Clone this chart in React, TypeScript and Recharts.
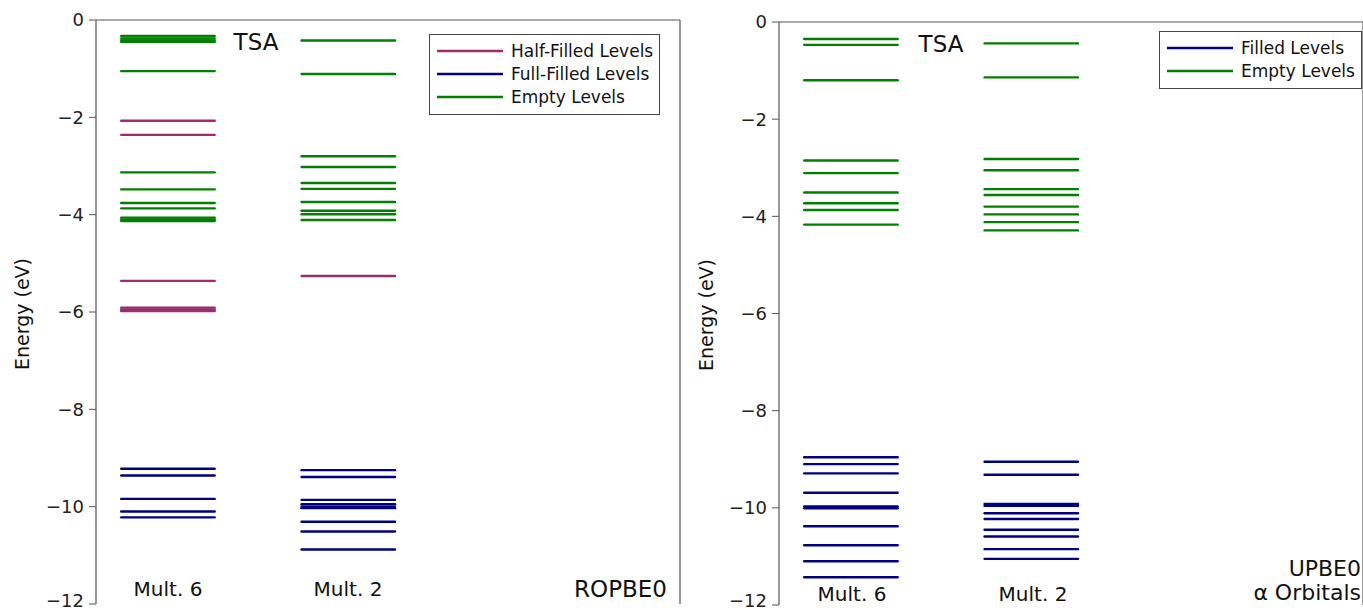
import React from 'react';
import { ComposedChart, Line, XAxis, YAxis, ReferenceLine } from 'recharts';

// ---- data (energies in eV) ----
const yTicks = [0, -2, -4, -6, -8, -10, -12];
const xDomain = [0, 6.25];
const mult6Span = [0.27, 1.27];
const mult2Span = [2.2, 3.2];
const categories = ['Mult. 6', 'Mult. 2'];

// ROPBE0 panel
const roHalf6 = [-2.07, -2.36, -5.36, -5.91, -5.95, -5.98];
const roEmpty6 = [-0.33, -0.38, -0.42, -0.45, -1.05, -3.13, -3.48, -3.76, -3.87, -4.06, -4.10, -4.13];
const roFull6 = [-9.22, -9.36, -9.84, -10.10, -10.22];
const roHalf2 = [-5.26];
const roEmpty2 = [-0.42, -1.11, -2.80, -3.02, -3.35, -3.47, -3.74, -3.92, -3.99, -4.11];
const roFull2 = [-9.25, -9.39, -9.86, -9.95, -10.00, -10.03, -10.31, -10.51, -10.88];

// UPBE0 alpha panel
const uEmpty6 = [-0.35, -0.47, -1.20, -2.85, -3.11, -3.51, -3.73, -3.87, -4.17];
const uFilled6 = [-8.96, -9.10, -9.29, -9.69, -9.97, -10.01, -10.38, -10.77, -11.10, -11.43];
const uEmpty2 = [-0.44, -1.14, -2.82, -3.05, -3.44, -3.56, -3.80, -3.96, -4.12, -4.29];
const uFilled2 = [-9.05, -9.32, -9.92, -9.96, -10.11, -10.23, -10.45, -10.59, -10.85, -11.05];

const PURPLE = '#9b2d6b';
const NAVY = '#000080';
const GREEN = '#008000';
const FRAME = '#555';
const FONT = '"DejaVu Sans", sans-serif';

type Group = { color: string; levels: number[]; span: number[] };

const fmt = (v: number) => (v === 0 ? '0' : '\u2212' + Math.abs(v));

function Panel({ width, height, margin, groups }: { width: number; height: number; margin: any; groups: Group[] }) {
  const lines: React.ReactNode[] = [];
  groups.forEach((g, gi) => {
    g.levels.forEach((e, li) => {
      lines.push(
        <Line
          key={`${gi}-${li}`}
          data={[{ x: g.span[0], y: e }, { x: g.span[1], y: e }]}
          dataKey="y"
          stroke={g.color}
          strokeWidth={2.4}
          strokeLinecap="round"
          dot={false}
          activeDot={false}
          isAnimationActive={false}
        />
      );
    });
  });
  return (
    <ComposedChart width={width} height={height} margin={margin}>
      <XAxis type="number" dataKey="x" domain={xDomain} hide={false} tick={false} tickLine={false} height={0}
        axisLine={{ stroke: FRAME, strokeWidth: 1.2 }} allowDataOverflow />
      <YAxis type="number" domain={[-12, 0]} ticks={yTicks} tickFormatter={fmt} width={60}
        tick={{ fontSize: 18, fill: '#222', fontFamily: FONT }} tickSize={7} tickMargin={5}
        axisLine={{ stroke: FRAME, strokeWidth: 1.2 }} tickLine={{ stroke: FRAME }} allowDataOverflow />
      <ReferenceLine y={0} stroke={FRAME} strokeWidth={1.2} />
      <ReferenceLine x={xDomain[1]} stroke={FRAME} strokeWidth={1.2} />
      {lines}
    </ComposedChart>
  );
}

const txt = (style: React.CSSProperties): React.CSSProperties => ({
  position: 'absolute', fontFamily: FONT, color: '#111', whiteSpace: 'nowrap', lineHeight: 1, ...style,
});

function LegendBox({ left, top, items }: { left: number; top: number; items: { label: string; color: string }[] }) {
  return (
    <div style={{ position: 'absolute', left, top, border: '1px solid #444', background: '#fff', padding: '4px 6px 6px 7px', fontFamily: FONT }}>
      {items.map((it) => (
        <div key={it.label} style={{ display: 'flex', alignItems: 'center', height: 23 }}>
          <svg width={66} height={6} style={{ marginRight: 8 }}>
            <line x1={0} y1={3} x2={66} y2={3} stroke={it.color} strokeWidth={2.6} />
          </svg>
          <span style={{ fontSize: 17, color: '#111' }}>{it.label}</span>
        </div>
      ))}
    </div>
  );
}

export default function App() {
  return (
    <div style={{ position: 'absolute', left: 0, top: 0, width: 1363, height: 611, background: '#fff', overflow: 'hidden' }}>
      <div style={{ position: 'absolute', left: 0, top: 0 }}>
        <Panel width={690} height={611} margin={{ top: 20, right: 10, bottom: 7, left: 36 }}
          groups={[
            { color: PURPLE, levels: roHalf6, span: mult6Span },
            { color: GREEN, levels: roEmpty6, span: mult6Span },
            { color: NAVY, levels: roFull6, span: mult6Span },
            { color: PURPLE, levels: roHalf2, span: mult2Span },
            { color: GREEN, levels: roEmpty2, span: mult2Span },
            { color: NAVY, levels: roFull2, span: mult2Span },
          ]} />
      </div>
      <div style={{ position: 'absolute', left: 683, top: 0 }}>
        <Panel width={680} height={611} margin={{ top: 22, right: 0, bottom: 6, left: 36 }}
          groups={[
            { color: GREEN, levels: uEmpty6, span: mult6Span },
            { color: NAVY, levels: uFilled6, span: mult6Span },
            { color: GREEN, levels: uEmpty2, span: mult2Span },
            { color: NAVY, levels: uFilled2, span: mult2Span },
          ]} />
      </div>

      {/* axis titles */}
      <div style={txt({ left: 22, top: 314, fontSize: 19, transform: 'translate(-50%,-50%) rotate(-90deg)' })}>Energy (eV)</div>
      <div style={txt({ left: 706, top: 315, fontSize: 19, transform: 'translate(-50%,-50%) rotate(-90deg)' })}>Energy (eV)</div>

      {/* annotations */}
      <div style={txt({ left: 256, top: 42, fontSize: 23, transform: 'translate(-50%,-50%)' })}>TSA</div>
      <div style={txt({ left: 941, top: 44, fontSize: 23, transform: 'translate(-50%,-50%)' })}>TSA</div>
      <div style={txt({ left: 168, top: 589, fontSize: 20, transform: 'translate(-50%,-50%)' })}>{categories[0]}</div>
      <div style={txt({ left: 348, top: 589, fontSize: 20, transform: 'translate(-50%,-50%)' })}>{categories[1]}</div>
      <div style={txt({ left: 852, top: 594, fontSize: 20, transform: 'translate(-50%,-50%)' })}>{categories[0]}</div>
      <div style={txt({ left: 1033, top: 594, fontSize: 20, transform: 'translate(-50%,-50%)' })}>{categories[1]}</div>
      <div style={txt({ right: 1363 - 667, top: 589, fontSize: 23, transform: 'translateY(-50%)' })}>ROPBE0</div>
      <div style={txt({ right: 2, top: 569, fontSize: 22, transform: 'translateY(-50%)', textAlign: 'right' })}>UPBE0</div>
      <div style={txt({ right: 2, top: 593, fontSize: 22, transform: 'translateY(-50%)', textAlign: 'right' })}>α Orbitals</div>

      <LegendBox left={429} top={34} items={[
        { label: 'Half-Filled Levels', color: PURPLE },
        { label: 'Full-Filled Levels', color: NAVY },
        { label: 'Empty Levels', color: GREEN },
      ]} />
      <LegendBox left={1159} top={31} items={[
        { label: 'Filled Levels', color: NAVY },
        { label: 'Empty Levels', color: GREEN },
      ]} />
    </div>
  );
}
